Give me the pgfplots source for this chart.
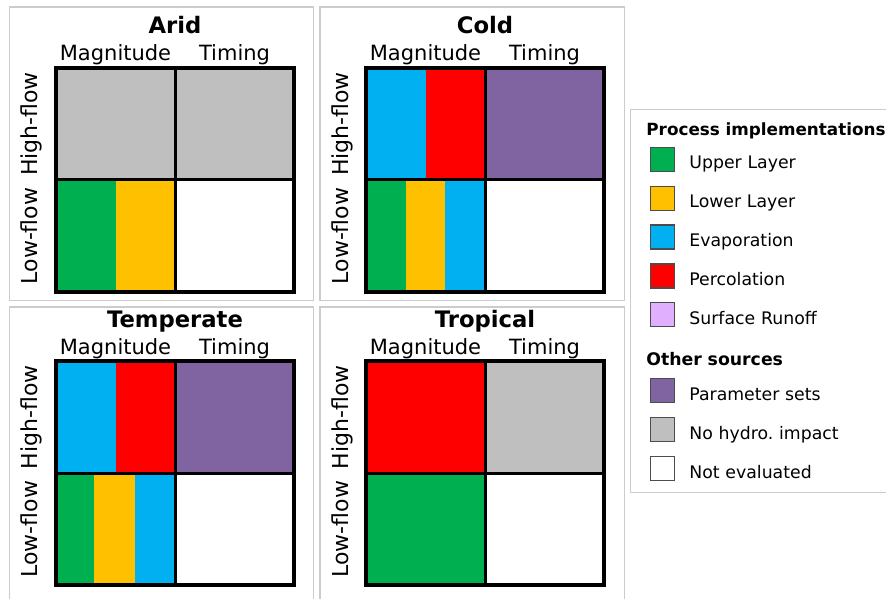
\documentclass[border=0pt]{standalone}
\usepackage{fontspec}
\setmainfont{DejaVu Sans}
\usepackage{pgfplots}
\pgfplotsset{compat=1.18}

\definecolor{cgreen}{HTML}{00B050}
\definecolor{cyellow}{HTML}{FFC000}
\definecolor{cblue}{HTML}{00B0F0}
\definecolor{cred}{HTML}{FF0000}
\definecolor{clilac}{HTML}{E0B0FF}
\definecolor{cpurple}{HTML}{8064A2}
\definecolor{cgray}{HTML}{BFBFBF}
\definecolor{cframe}{HTML}{CCCCCC}

% one filled cell: colour, x0, x1, y0, y1 (Magnitude x 0-1, Timing x 1-2; Low-flow y 0-1, High-flow y 1-2)
\newcommand{\cell}[5]{\addplot[fill=#1, draw=none, forget plot] coordinates {(#2,#4) (#3,#4) (#3,#5) (#2,#5)} -- cycle;}
\newcommand{\gridlines}{%
  \addplot[black, line width=3pt, forget plot] coordinates {(1,0) (1,2)};
  \addplot[black, line width=3pt, forget plot] coordinates {(0,1) (2,1)};}
\newcommand{\labels}[1]{%
  \node[font=\fontsize{22.7}{27}\selectfont\bfseries, anchor=base] at ([yshift=34pt]axis cs:1,2) {#1};
  \node[anchor=base] at ([yshift=7pt]axis cs:0.5,2) {Magnitude};
  \node[anchor=base] at ([yshift=7pt]axis cs:1.5,2) {Timing};
  \node[rotate=90, anchor=base] at ([xshift=-18pt]axis cs:0,1.5) {\fontsize{22}{26}\selectfont High-flow};
  \node[rotate=90, anchor=base] at ([xshift=-18pt]axis cs:0,0.5) {\fontsize{22}{26}\selectfont Low-flow};}

\pgfplotsset{
  panel/.style={
    scale only axis, width=238pt, height=224pt, anchor=south west,
    xmin=0, xmax=2, ymin=0, ymax=2,
    xtick=\empty, ytick=\empty, clip=false, axis on top,
    axis line style={line width=4pt, line cap=rect},
    font=\fontsize{21}{25}\selectfont,
  },
  swatch/.style={legend image code/.code={%
    \draw[##1, draw=black!70, line width=1.2pt] (0pt,-7pt) rectangle (24pt,17pt);}},
  % last swatch: same square, with room below it for the legend's bottom padding
  lastswatch/.style={legend image code/.code={%
    \draw[##1, draw=black!70, line width=1.2pt] (0pt,-7pt) rectangle (24pt,17pt);
    \path (0pt,-18pt);}},
}

\begin{document}
\begin{tikzpicture}
\useasboundingbox (0,0) rectangle (886pt,598pt);
\clip (0,0) rectangle (886pt,598pt);

% panel frames
\draw[cframe, line width=1.3pt] (9.5pt,297.3pt) rectangle (313.5pt,591pt);
\draw[cframe, line width=1.3pt] (320pt,297.3pt) rectangle (624.3pt,591pt);
\draw[cframe, line width=1.3pt] (9.5pt,-5pt) rectangle (313.5pt,291pt);
\draw[cframe, line width=1.3pt] (320pt,-5pt) rectangle (624.3pt,291pt);

% Arid
\begin{axis}[panel, at={(56pt,306pt)}]
\cell{cgray}{0}{1}{1}{2}
\cell{cgray}{1}{2}{1}{2}
\cell{cgreen}{0}{0.5}{0}{1}
\cell{cyellow}{0.5}{1}{0}{1}
\cell{white}{1}{2}{0}{1}
\gridlines
\labels{Arid}
\end{axis}

% Cold
\begin{axis}[panel, at={(366pt,306pt)}]
\cell{cblue}{0}{0.5}{1}{2}
\cell{cred}{0.5}{1}{1}{2}
\cell{cpurple}{1}{2}{1}{2}
\cell{cgreen}{0}{0.3333}{0}{1}
\cell{cyellow}{0.3333}{0.6667}{0}{1}
\cell{cblue}{0.6667}{1}{0}{1}
\cell{white}{1}{2}{0}{1}
\gridlines
\labels{Cold}
\end{axis}

% Temperate
\begin{axis}[panel, at={(56pt,12.7pt)}]
\cell{cblue}{0}{0.5}{1}{2}
\cell{cred}{0.5}{1}{1}{2}
\cell{cpurple}{1}{2}{1}{2}
\cell{cgreen}{0}{0.32}{0}{1}
\cell{cyellow}{0.32}{0.66}{0}{1}
\cell{cblue}{0.66}{1}{0}{1}
\cell{white}{1}{2}{0}{1}
\gridlines
\labels{Temperate}
\end{axis}

% Tropical
\begin{axis}[panel, at={(366pt,12.7pt)}]
\cell{cred}{0}{1}{1}{2}
\cell{cgray}{1}{2}{1}{2}
\cell{cgreen}{0}{1}{0}{1}
\cell{white}{1}{2}{0}{1}
\gridlines
\labels{Tropical}
\end{axis}

% legend
\begin{axis}[hide axis, scale only axis, width=10pt, height=10pt,
  at={(630pt,489pt)}, anchor=north west,
  xmin=0, xmax=1, ymin=0, ymax=1,
  legend style={at={(0,1)}, anchor=north west, draw=cframe, line width=1.3pt,
    fill=white, font=\fontsize{17.3}{20}\selectfont,
    inner xsep=19.5pt, inner ysep=0pt, row sep=11.8pt, column sep=14pt,
    nodes={inner sep=0pt, text height=14pt, text depth=5pt, text width=190pt, align=left},
    cells={anchor=base west}},
  legend cell align=left]
\addlegendimage{empty legend}
\addlegendentry[text height=17.6pt, text depth=7.6pt]{\hspace*{-43pt}\smash{\raisebox{-8.45pt}{\fontsize{16.8}{20}\selectfont\bfseries Process implementations}}}
\addlegendimage{swatch, fill=cgreen}
\addlegendentry{Upper Layer}
\addlegendimage{swatch, fill=cyellow}
\addlegendentry{Lower Layer}
\addlegendimage{swatch, fill=cblue}
\addlegendentry{Evaporation}
\addlegendimage{swatch, fill=cred}
\addlegendentry{Percolation}
\addlegendimage{swatch, fill=clilac}
\addlegendentry{Surface Runoff}
\addlegendimage{empty legend}
\addlegendentry[text height=17.6pt, text depth=7.6pt]{\hspace*{-43pt}\smash{\raisebox{-6.7pt}{\bfseries Other sources}}}
\addlegendimage{swatch, fill=cpurple}
\addlegendentry{Parameter sets}
\addlegendimage{swatch, fill=cgray}
\addlegendentry{No hydro.\ impact}
\addlegendimage{lastswatch, fill=white}
\addlegendentry{Not evaluated}
\end{axis}
\end{tikzpicture}
\end{document}
